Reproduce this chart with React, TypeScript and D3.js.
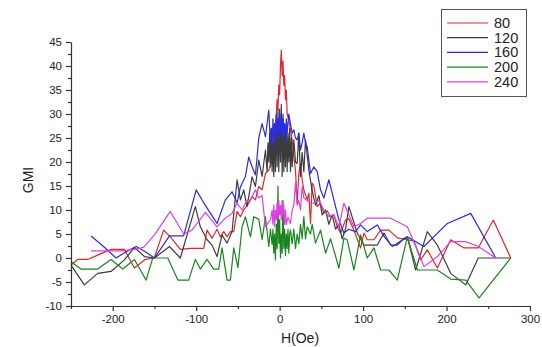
import { useEffect, useRef } from "react";
import * as d3 from "d3";

// GMI vs field, one curve per frequency label
const seriesNames = ["80", "120", "160", "200", "240"];
const seriesColors = ["#e3262a", "#3c3c3c", "#2b2be0", "#19851c", "#e040e0"];

const h80 = [-250,-242,-230,-218,-202,-186,-174,-162,-150,-139,-131,-119,-107,-91,-87,-81,-75,-71,-67,-63,-59,-55,-51,-47,-43,-37,-33,-29,-25,-21,-17,-13,-9,-8,-7,-6,-5,-4,-3,-2,-1,0,1,2,3,4,5,6,7,8,9,11,13,15,17,19,20,21,23,25,27,29,33,35,37,39,41,45,49,53,57,61,65,69,73,79,83,89,97,101,105,113,121,131,141,153,161,169,177,189,205,221,238,256,277];
const g80 = [-1.5,-0.3,-0.3,0.6,1.8,1.8,-2.1,-0.4,0.1,5.8,4.4,1.8,2.0,2.0,5.8,4.1,6.0,4.4,5.5,4.4,5.5,5.5,9.7,8.6,10,11.4,12.8,12.1,14.9,14.2,17.6,18.3,20.4,23,22,27,26,30,33,31,36,34,40,43.3,38,41,36,38,33,35,30,28.7,26.7,24.6,21.1,18.3,14.9,11.4,17.6,19.7,16.3,14.2,12.1,13.5,7.2,15.6,15.0,10.7,11.4,9.3,9.8,8.6,9.0,6.5,5.2,7.9,8.2,5.8,2.1,5.2,3.8,3.8,5.8,5.8,4.2,3.8,3.5,-0.4,1.7,-2.1,3.8,2.1,2.1,7.9,0];

const h120 = [-250,-234,-218,-202,-186,-174,-162,-150,-132,-119,-101,-95,-87,-81,-75,-69,-63,-57,-51,-47,-43,-39,-33,-29,-25,-21,-17,-15,-14,-13,-12,-11,-10,-9,-8,-7,-6,-5,-4,-3,-2,-1,0,1,2,3,4,5,6,7,8,9,10,11,12,13,14,15,17,19,21,23,25,27,29,31,35,39,43,47,51,55,59,63,67,71,75,79,83,93,101,109,117,125,133,141,149,153,163,177,189,205,223,238,261,277];
const g120 = [-1.5,-5.6,-3.2,-2.8,-0.4,2.2,0.3,0,2.4,0,10.7,6.5,3.8,2.7,0.3,4.8,3.1,5.5,16.3,12.1,14.2,10.7,16.9,14.9,20.4,17,22.5,18,24,20,26,19,27,18,25,17,28,18,29,19,31,18,30,20,32,17,29,18,27,19,28,18,26,20,27,18,25,19,24.6,20,19.7,26,17,22,18,24.6,18.3,14,11,13,9,10,7,9,6,7,4,6,10.7,5.2,2.7,2.7,2.7,5.2,2.7,2.7,4.1,4.4,-2.5,5.5,2.7,-3.2,-5.6,0,0,0];

const h160 = [-226,-211,-196,-184,-172,-160,-150,-132,-115,-100,-91,-75,-65,-57,-51,-47,-41,-37,-33,-29,-25,-21,-17,-13,-11,-10,-9,-8,-7,-6,-5,-4,-3,-2,-1,0,1,2,3,4,5,6,7,8,9,10,11,13,15,17,19,21,23,25,27,29,31,33,37,41,45,49,53,59,65,71,77,83,91,97,105,117,125,135,153,173,201,229,259];
const g160 = [4.6,2.4,0,1.3,2.4,1.2,0,4.6,4.6,14.2,11.5,7.2,12.1,13.8,11.5,14.8,17,21,19,17.3,25,28,25.3,30.8,24,27,23,29,25,28,24,30,26,29,25,31,26,29,25,30,26,28,24,29,26,28,30,28,26,26.7,25,24.6,26,22.5,24,26,24,23.2,17.6,19,18,14.2,12.5,16.3,12.1,8,5.2,6,5.5,6.9,5.5,6.9,4.5,2.4,4.4,2.4,7.2,9.3,0];

const h200 = [-250,-238,-218,-202,-188,-174,-160,-152,-134,-122,-109,-101,-95,-87,-79,-73,-69,-63,-59,-55,-50,-45,-41,-35,-31,-25,-21,-17,-13,-11,-9,-8,-7,-6,-5,-4,-3,-2,-1,0,1,2,3,4,5,6,7,8,9,10,11,12,13,15,17,19,21,23,25,27,29,31,33,37,39,43,49,55,61,66,71,77,81,89,97,105,113,121,131,141,153,165,189,205,223,239,277];
const g200 = [-0.8,-2.3,-2.3,-0.3,-2.3,-0.3,-4.6,0,0,-4.6,-4.6,-0.3,-2.3,-0.3,-2.3,-2.3,2.1,-4.6,-4.6,2.1,-2,6.5,8.6,4.4,8.6,8.1,3.8,8.6,2.4,6,2.8,6,1,5,-0.4,7,2,15,3,8,0,5,1,12,2,6,0.5,5,2,6,1,5,5.8,3,6,2,5,3,7,4,8.6,4,6.5,5,7,3.1,5.8,1,4,1,-2.1,4.1,3.8,-2.5,4.8,0,2.1,-2.5,-2.5,-4.6,4.4,-2.5,-2.5,-4.4,-4.6,-8.3,0];

const h240 = [-226,-210,-190,-174,-163,-150,-131,-115,-105,-89,-75,-67,-57,-51,-45,-39,-35,-29,-25,-21,-17,-13,-11,-9,-8,-7,-6,-5,-4,-3,-2,-1,0,1,2,3,4,5,6,7,8,10,13,15,17,19,21,23,25,27,29,33,37,41,47,53,59,65,71,77,83,89,97,105,133,153,165,173,189,205,223,238,259];
const g240 = [1.5,1.5,1.5,1.8,2.2,4.8,9.7,5,5.8,9.5,6.5,8,9.3,11.4,10,12,12.1,14.2,12.5,13,6.5,7.5,7.9,10,7,11,6.5,10,8,11.5,8,12,9,11,8,12,9,11,7,10,7,8.5,7.2,10,11,15.6,11,12,10,14.9,12.5,12,11.5,11.4,12,10,8.6,9,6.5,11.4,9,6.5,7.2,8.3,8.3,6.5,1.7,-1.8,0.3,3.4,3.4,2.4,0];

const fieldTicks = [-200, -100, 0, 100, 200, 300];
const gmiTicks = [-10, -5, 0, 5, 10, 15, 20, 25, 30, 35, 40, 45];

const Chart = () => {
  const ref = useRef(null);

  useEffect(() => {
    if (!ref.current) return;
    const svg = d3.select(ref.current);
    svg.selectAll("*").remove();

    const x = d3.scaleLinear().domain([-250, 300]).range([71, 530]);
    const y = d3.scaleLinear().domain([-10, 45]).range([306, 42]);

    const allH = [h80, h120, h160, h200, h240];
    const allG = [g80, g120, g160, g200, g240];
    const series = seriesNames.map((name, i) => ({
      name,
      color: seriesColors[i],
      pts: allH[i].map((h, j) => [h, allG[i][j]]),
    }));

    const line = d3.line().x((d) => x(d[0])).y((d) => y(d[1]));

    series.forEach((s) => {
      svg.append("path")
        .datum(s.pts)
        .attr("fill", "none")
        .attr("stroke", s.color)
        .attr("stroke-width", 1.2)
        .attr("stroke-linejoin", "round")
        .attr("d", line);
    });

    // minor ticks
    svg.append("g")
      .attr("transform", "translate(0,306)")
      .call(d3.axisBottom(x).tickValues([-250, -150, -50, 50, 150, 250]).tickSize(3).tickFormat("").tickSizeOuter(0))
      .call((g) => g.select(".domain").remove());
    svg.append("g")
      .attr("transform", "translate(71,0)")
      .call(d3.axisLeft(y).tickValues(d3.range(-7.5, 45, 5)).tickSize(3).tickFormat("").tickSizeOuter(0))
      .call((g) => g.select(".domain").remove());

    // plain hyphen minus like the original
    const fmt = (d) => String(d);
    const xAxis = svg.append("g")
      .attr("transform", "translate(0,306)")
      .call(d3.axisBottom(x).tickValues(fieldTicks).tickFormat(fmt).tickSize(5).tickSizeOuter(0).tickPadding(4));
    const yAxis = svg.append("g")
      .attr("transform", "translate(71,0)")
      .call(d3.axisLeft(y).tickValues(gmiTicks).tickFormat(fmt).tickSize(5).tickSizeOuter(0).tickPadding(4));

    [xAxis, yAxis].forEach((a) => {
      a.selectAll("text")
        .style("font-family", "Liberation Sans, Arial, sans-serif")
        .style("font-size", "11.5px")
        .style("fill", "#222");
    });
    svg.selectAll(".domain, .tick line").attr("stroke", "#333").attr("stroke-width", 1.2);

    svg.append("text")
      .attr("x", 300)
      .attr("y", 343)
      .attr("text-anchor", "middle")
      .style("font-family", "Liberation Sans, Arial, sans-serif")
      .style("font-size", "14px")
      .style("fill", "#222")
      .text("H(Oe)");

    svg.append("text")
      .attr("transform", "translate(33,180) rotate(-90)")
      .attr("text-anchor", "middle")
      .style("font-family", "Liberation Sans, Arial, sans-serif")
      .style("font-size", "14px")
      .style("fill", "#222")
      .text("GMI");

    // legend
    const legend = svg.append("g");
    legend.append("rect")
      .attr("x", 441.5)
      .attr("y", 9.5)
      .attr("width", 85)
      .attr("height", 87)
      .attr("fill", "#fff")
      .attr("stroke", "#555")
      .attr("stroke-width", 1);
    series.forEach((s, i) => {
      const ly = 23 + i * 14.7;
      legend.append("line")
        .attr("x1", 447).attr("x2", 488)
        .attr("y1", ly).attr("y2", ly)
        .attr("stroke", s.color)
        .attr("stroke-width", 1.2);
      legend.append("text")
        .attr("x", 494)
        .attr("y", ly + 5)
        .style("font-family", "Liberation Sans, Arial, sans-serif")
        .style("font-size", "14.5px")
        .style("fill", "#222")
        .text(s.name);
    });
  }, []);

  return (
    <svg
      ref={ref}
      width={542}
      height={347}
      style={{ position: "absolute", left: 0, top: 0, background: "#fff" }}
    />
  );
};

export default function App() {
  return <Chart />;
}
